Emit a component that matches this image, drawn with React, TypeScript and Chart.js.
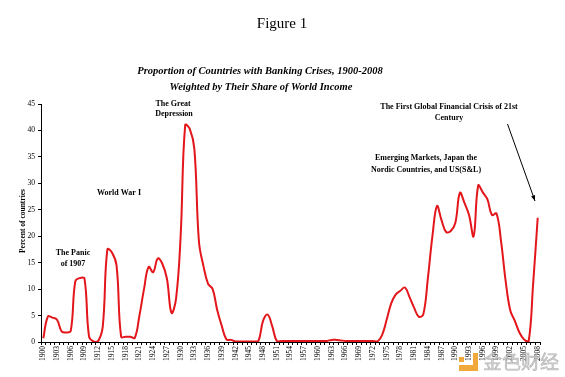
import React, { useEffect, useRef } from "react";
import { Chart, registerables } from "chart.js";

Chart.register(...registerables);

const years: string[] = [];
for (let y = 1900; y <= 2008; y++) years.push(String(y));

// Percent of countries in banking crisis, weighted by share of world income
const values1900s = [0.7, 4.8, 4.6, 4.2, 2.0, 1.8, 2.1, 11.5, 12.1, 12.0];
const values1910s = [1.0, 0.1, 0.2, 3.0, 17.5, 16.9, 14.5, 1.0, 1.0, 1.0];
const values1920s = [0.8, 5.0, 10.0, 14.2, 13.2, 15.8, 14.8, 12.0, 5.5, 8.2];
const values1930s = [20.0, 41.0, 40.3, 36.5, 19.0, 14.3, 11.0, 10.0, 6.0, 3.0];
const values1940s = [0.5, 0.4, 0.1, 0.1, 0.1, 0.1, 0.1, 0.2, 4.0, 5.2];
const values1950s = [3.0, 0.2, 0.2, 0.2, 0.2, 0.2, 0.2, 0.2, 0.2, 0.2];
const values1960s = [0.2, 0.2, 0.2, 0.4, 0.4, 0.3, 0.2, 0.2, 0.2, 0.2];
const values1970s = [0.2, 0.2, 0.2, 0.1, 1.3, 4.2, 7.3, 9.0, 9.7, 10.3];
const values1980s = [8.5, 6.5, 4.8, 5.2, 12.0, 20.0, 25.7, 23.0, 20.8, 21.0];
const values1990s = [22.5, 28.2, 26.3, 24.0, 20.0, 29.6, 28.3, 27.0, 24.0, 24.3];
const values2000s = [19.0, 11.5, 6.0, 4.0, 1.8, 0.5, 0.0, 11.0, 23.5];

const crisisShare = [
  ...values1900s, ...values1910s, ...values1920s, ...values1930s, ...values1940s,
  ...values1950s, ...values1960s, ...values1970s, ...values1980s, ...values1990s, ...values2000s,
];

const yTicks = [0, 5, 10, 15, 20, 25, 30, 35, 40, 45];

const SERIF = '"Liberation Serif", "Times New Roman", serif';

const textPlugin = {
  id: "figureText",
  afterDraw(chart: any) {
    const ctx = chart.ctx as CanvasRenderingContext2D;
    ctx.save();
    ctx.fillStyle = "#000";
    ctx.textAlign = "center";
    ctx.textBaseline = "middle";

    ctx.font = `15px ${SERIF}`;
    ctx.fillText("Figure 1", 282, 24);

    ctx.font = `italic bold 10.5px ${SERIF}`;
    ctx.fillText("Proportion of Countries with Banking Crises, 1900-2008", 260, 71);
    ctx.fillText("Weighted by Their Share of World Income", 261, 87);

    ctx.font = `bold 8px ${SERIF}`;
    ctx.fillText("The Great", 173, 104);
    ctx.fillText("Depression", 174, 114);
    ctx.fillText("World War I", 119, 193);
    ctx.fillText("The Panic", 73, 253);
    ctx.fillText("of 1907", 73, 264);
    ctx.fillText("The First Global Financial Crisis of 21st", 449, 107);
    ctx.fillText("Century", 449, 118);
    ctx.fillText("Emerging Markets, Japan the", 426, 158);
    ctx.fillText("Nordic Countries, and US(S&L)", 426, 170);

    // y axis title
    ctx.save();
    ctx.translate(23, 221);
    ctx.rotate(-Math.PI / 2);
    ctx.font = `bold 7.5px ${SERIF}`;
    ctx.fillText("Percent of countries", 0, 0);
    ctx.restore();

    // arrow
    const x1 = 507.5, y1 = 124, x2 = 535, y2 = 201;
    ctx.strokeStyle = "#000";
    ctx.lineWidth = 1;
    ctx.beginPath();
    ctx.moveTo(x1, y1);
    ctx.lineTo(x2, y2);
    ctx.stroke();
    const ang = Math.atan2(y2 - y1, x2 - x1);
    ctx.beginPath();
    ctx.moveTo(x2, y2);
    ctx.lineTo(x2 - 6 * Math.cos(ang - 0.35), y2 - 6 * Math.sin(ang - 0.35));
    ctx.lineTo(x2 - 6 * Math.cos(ang + 0.35), y2 - 6 * Math.sin(ang + 0.35));
    ctx.closePath();
    ctx.fillStyle = "#000";
    ctx.fill();

    // watermark
    ctx.fillStyle = "#f2a93b";
    ctx.fillRect(473, 353, 5, 17);
    ctx.fillRect(459, 365, 19, 6);
    ctx.fillRect(459, 357, 5, 5);
    ctx.font = `19px "Noto Sans CJK SC", sans-serif`;
    ctx.textAlign = "left";
    ctx.fillStyle = "rgba(200,200,200,0.8)";
    ctx.strokeStyle = "rgba(150,150,150,0.6)";
    ctx.lineWidth = 0.6;
    ctx.fillText("金色财经", 483, 362);
    ctx.strokeText("金色财经", 483, 362);
    ctx.restore();
  },
};

export default function App() {
  const ref = useRef<HTMLCanvasElement | null>(null);
  useEffect(() => {
    document.body.style.margin = "0";
    const canvas = ref.current!;
    const chart = new Chart(canvas, {
      type: "line",
      data: {
        labels: years,
        datasets: [
          {
            data: crisisShare,
            borderColor: "#e3161b",
            borderWidth: 2,
            pointRadius: 0,
            tension: 0.4,
            fill: false,
          },
        ],
      },
      options: {
        animation: false,
        responsive: false,
        maintainAspectRatio: false,
        layout: { padding: { left: 0, top: 104, right: 25, bottom: 0 } },
        plugins: { legend: { display: false }, title: { display: false }, tooltip: { enabled: false } },
        scales: {
          x: {
            type: "category",
            offset: true,
            afterFit: (s: any) => { s.height = 35; },
            border: { display: true, color: "#000", width: 1 },
            grid: { display: true, offset: true, drawOnChartArea: false, drawTicks: true, tickLength: 3, color: "#000" },
            ticks: {
              autoSkip: false,
              minRotation: 90,
              maxRotation: 90,
              padding: 1,
              color: "#000",
              font: { family: SERIF, size: 7.5 },
              callback: (_v: any, i: number) => (i % 3 === 0 ? years[i] : ""),
            },
          },
          y: {
            min: 0,
            max: 45,
            afterFit: (s: any) => { s.width = 41; },
            afterBuildTicks: (s: any) => { s.ticks = yTicks.map((v) => ({ value: v })); },
            border: { display: true, color: "#000", width: 1 },
            grid: { display: true, drawOnChartArea: false, drawTicks: true, tickLength: 3, color: "#000" },
            ticks: { color: "#000", padding: 3, font: { family: SERIF, size: 7.5 } },
          },
        },
      },
      plugins: [textPlugin],
    });
    return () => chart.destroy();
  }, []);
  return (
    <div style={{ position: "fixed", left: 0, top: 0, width: 565, height: 377, background: "#fff" }}>
      <canvas ref={ref} width={565} height={377} style={{ width: 565, height: 377, display: "block" }} />
    </div>
  );
}
